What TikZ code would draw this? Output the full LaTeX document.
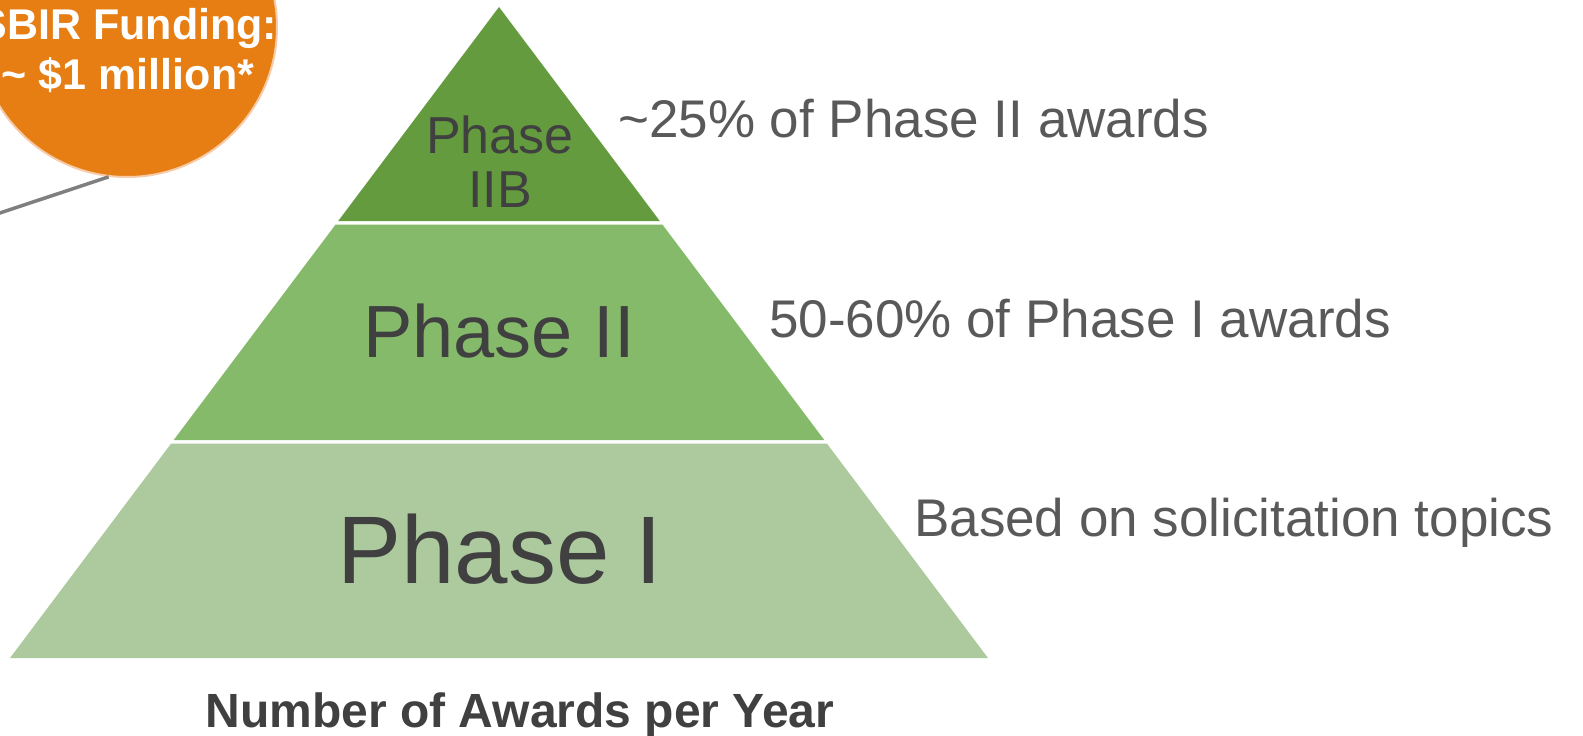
\documentclass[tikz,border=0pt]{standalone}
\usepackage{fontspec}
\setmainfont{Liberation Sans}
\definecolor{gtop}{HTML}{649B3E}
\definecolor{gmid}{HTML}{86BA6B}
\definecolor{gbot}{HTML}{ADCA9F}
\definecolor{orng}{HTML}{E67E13}
\definecolor{peach}{HTML}{F8CBA8}
\definecolor{dtext}{HTML}{404040}
\definecolor{ltext}{HTML}{595959}
\definecolor{lgray}{HTML}{7F7F7F}
\newcommand\setfs[1]{\fontsize{#1}{#1}\selectfont}
\begin{document}
\begin{tikzpicture}[x=1pt,y=-1pt,
  phasetxt/.style={inner sep=0pt, anchor=base, text=dtext},
  sidetxt/.style={inner sep=0pt, anchor=base west, text=ltext, font=\setfs{53}},
  bubtxt/.style={inner sep=0pt, anchor=base, text=white, font=\bfseries\setfs{43}}]
\useasboundingbox (0,0) rectangle (1583,736);
\clip (0,0) rectangle (1583,736);
\fill[white] (0,0) rectangle (1583,736);
% pyramid
\fill[gtop] (499,7) -- (659.8,221) -- (338.2,221) -- cycle;
\fill[gmid] (335.6,224.5) -- (662.4,224.5) -- (824.3,440) -- (173.7,440) -- cycle;
\fill[gbot] (171.1,443.5) -- (826.9,443.5) -- (988,658) -- (10,658) -- cycle;
% labels inside pyramid
\node[phasetxt, font=\setfs{52}] (p2b1) at (500,153) {Phase};
\node[phasetxt, font=\setfs{52}] (p2b2) at (500,207) {IIB};
\node[phasetxt, font=\setfs{74}] (p2) at (499,357) {Phase II};
\node[phasetxt, font=\setfs{96}] (p1) at (500,583) {Phase I};
% side labels
\node[sidetxt] (s1) at (618,137) {\textasciitilde25\% of Phase II awards};
\node[sidetxt] (s2) at (769,337) {50-60\% of Phase I awards};
\node[sidetxt] (s3) at (914,536) {Based on solicitation topics};
% bottom caption
\node[phasetxt, font=\bfseries\setfs{48}] (cap) at (520,727) {Number of Awards per Year};
% bubble
\node[circle, minimum size=300pt, inner sep=0pt, fill=orng, draw=peach, line width=2pt] (circ) at (127,27) {};
\coordinate (ls) at (-5,214.6);
\draw[lgray, line width=3.5pt] (ls) -- (circ.263.5);
\node[bubtxt] (b1) at (128,39) {SBIR Funding:};
\node[bubtxt] (b2) at (128,89) {\textasciitilde{} \$1 million*};
\end{tikzpicture}
\end{document}
